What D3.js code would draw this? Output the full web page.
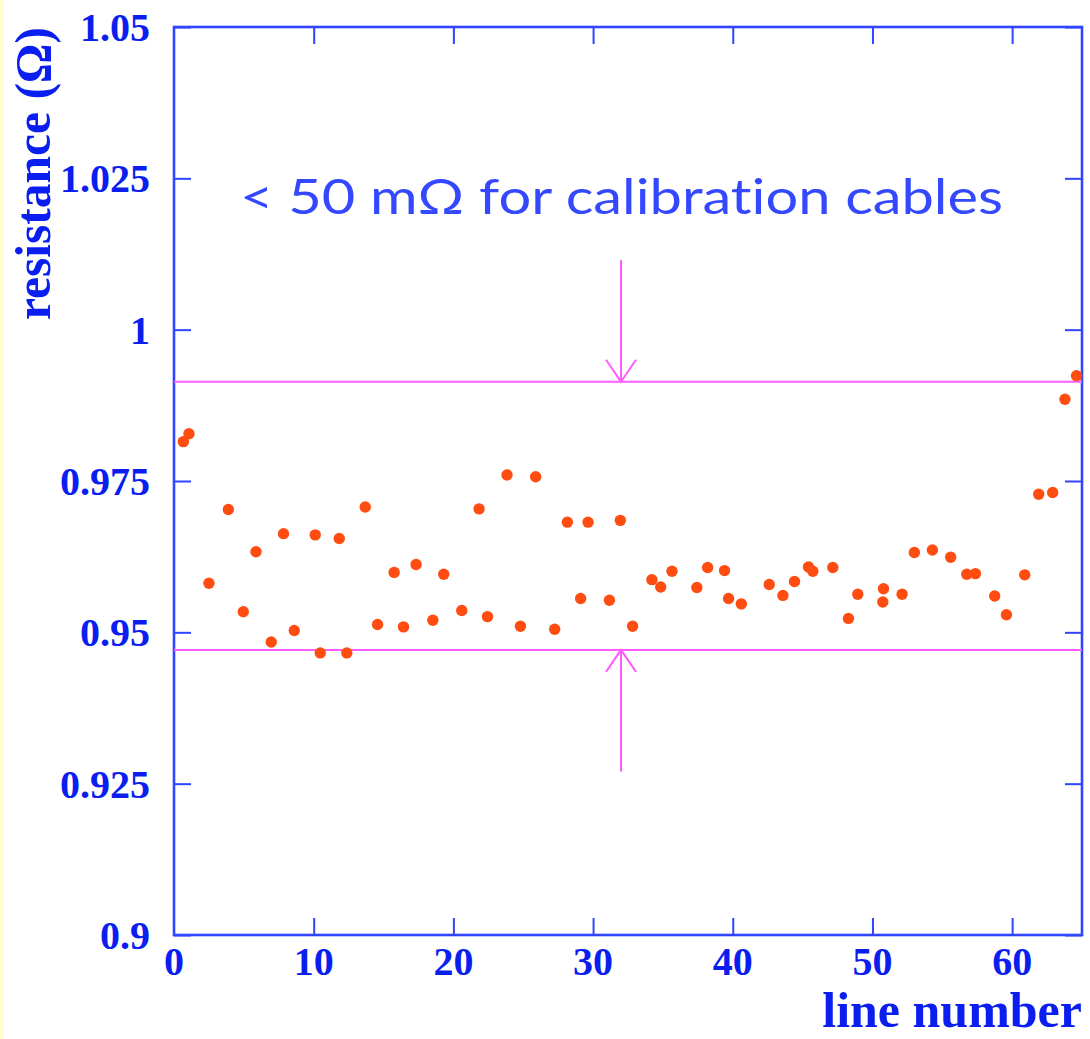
<!DOCTYPE html>
<html>
<head>
<meta charset="utf-8">
<script src="https://cdn.jsdelivr.net/npm/d3@7"></script>
<style>
  html, body { margin: 0; padding: 0; background: #ffffff; }
  svg { display: block; }
  .annot { font-variant-ligatures: none; font-feature-settings: "liga" 0, "clig" 0; }
</style>
</head>
<body>
<svg id="chart" width="1090" height="1039"></svg>
<script>
// ---- data ----
const lineNumbers = [0.67,1.07,2.5,3.89,4.96,5.87,6.96,7.84,8.61,10.11,10.47,11.83,12.37,13.69,14.57,15.76,16.43,17.33,18.53,19.31,20.6,21.84,22.44,23.84,24.8,25.89,27.25,28.16,29.11,29.64,31.17,31.95,32.83,34.21,34.84,35.65,37.43,38.2,39.41,39.7,40.61,42.61,43.59,44.42,45.42,45.73,47.16,48.28,48.95,50.74,50.79,52.12,53.0,54.29,55.6,56.75,57.37,58.75,59.59,60.9,61.9,62.9,63.78,64.61];
const resistances = [0.9815,0.9828,0.9581,0.9703,0.9534,0.9633,0.9484,0.9663,0.9503,0.9661,0.9466,0.9655,0.9466,0.9707,0.9513,0.9599,0.9509,0.9612,0.9520,0.9596,0.9536,0.9704,0.9526,0.9760,0.9510,0.9757,0.9505,0.9682,0.9556,0.9682,0.9553,0.9685,0.9510,0.9587,0.9575,0.9601,0.9574,0.9607,0.9602,0.9556,0.9547,0.9579,0.9561,0.9584,0.9608,0.9601,0.9607,0.9523,0.9563,0.9550,0.9572,0.9563,0.9632,0.9636,0.9624,0.9596,0.9597,0.9560,0.9529,0.9595,0.9728,0.9731,0.9885,0.9924];
const xTicks = [0,10,20,30,40,50,60];
const yTicks = [0.9,0.925,0.95,0.975,1,1.025,1.05];
const yTickLabels = ["0.9","0.925","0.95","0.975","1","1.025","1.05"];
const limitLines = [0.9914, 0.9471];
const arrowX = 32;
const arrowEnds = [1.0115, 0.927];
const annotation = "< 50 m\u03A9 for calibration cables";
const xTitle = "line number";
const yTitle = "resistance (\u03A9)";

// ---- layout ----
const L = 174, R = 1082, T = 27, B = 935;
const svg = d3.select("#chart");
const x = d3.scaleLinear().domain([0, 65]).range([L, R]);
const y = d3.scaleLinear().domain([0.9, 1.05]).range([B, T]);

const axisColor = "#2f45ff";
const labelColor = "#0a1ef0";

// yellow strip at left
svg.append("rect").attr("x",0).attr("y",0).attr("width",4).attr("height",1039).attr("fill","#ffffcc");

// axes via d3 (inward ticks, no labels; labels drawn separately)
function styleAxis(g) {
  g.selectAll(".domain").remove();
  g.selectAll(".tick line").attr("stroke", axisColor).attr("stroke-width", 2);
  g.selectAll(".tick text").remove();
}
const tk = 17;
svg.append("g").attr("transform",`translate(0,${B})`)
  .call(d3.axisBottom(x).tickValues(xTicks.filter(d=>d>0)).tickSizeInner(-tk).tickSizeOuter(0)).call(styleAxis);
svg.append("g").attr("transform",`translate(0,${T})`)
  .call(d3.axisTop(x).tickValues(xTicks.filter(d=>d>0)).tickSizeInner(-tk).tickSizeOuter(0)).call(styleAxis);
svg.append("g").attr("transform",`translate(${L},0)`)
  .call(d3.axisLeft(y).tickValues(yTicks).tickSizeInner(-tk).tickSizeOuter(0)).call(styleAxis);
svg.append("g").attr("transform",`translate(${R},0)`)
  .call(d3.axisRight(y).tickValues(yTicks).tickSizeInner(-tk).tickSizeOuter(0)).call(styleAxis);

// frame
svg.append("rect").attr("x",L).attr("y",T).attr("width",R-L).attr("height",B-T)
  .attr("fill","none").attr("stroke",axisColor).attr("stroke-width",2.6);

// tick labels
const tickFont = "'Liberation Serif','Times New Roman',serif";
svg.append("g").selectAll("text").data(xTicks).join("text")
  .attr("x", d => x(d)).attr("y", B + 40)
  .attr("text-anchor","middle")
  .attr("font-family", tickFont).attr("font-weight","bold").attr("font-size",40)
  .attr("fill", labelColor).text(d => d);
svg.append("g").selectAll("text").data(yTicks).join("text")
  .attr("x", 150).attr("y", d => y(d) + 14)
  .attr("text-anchor","end")
  .attr("font-family", tickFont).attr("font-weight","bold").attr("font-size",40)
  .attr("fill", labelColor).text((d,i) => yTickLabels[i]);

// titles
svg.append("text").attr("x", R).attr("y", 1027).attr("text-anchor","end")
  .attr("font-family", tickFont).attr("font-weight","bold").attr("font-size",50)
  .attr("fill", labelColor).text(xTitle);
svg.append("text").attr("transform","translate(50,27) rotate(-90)").attr("text-anchor","end")
  .attr("font-family", tickFont).attr("font-weight","bold").attr("font-size",50)
  .attr("textLength", 293).attr("lengthAdjust","spacingAndGlyphs")
  .attr("fill", labelColor).text(yTitle);

// limit lines
const mag = "#ff5cff";
svg.append("g").selectAll("line").data(limitLines).join("line")
  .attr("x1", L).attr("x2", R).attr("y1", d => y(d)).attr("y2", d => y(d))
  .attr("stroke", mag).attr("stroke-width", 2);

// arrows
const ag = svg.append("g").attr("stroke", mag).attr("stroke-width", 2).attr("fill","none");
limitLines.forEach((lim, i) => {
  const ax = x(arrowX), y0 = y(arrowEnds[i]), y1 = y(lim);
  const dir = y1 > y0 ? -1 : 1; // head points toward the limit line
  ag.append("line").attr("x1", ax).attr("x2", ax).attr("y1", y0).attr("y2", y1);
  ag.append("polyline").attr("points", `${ax-15},${y1+dir*22} ${ax},${y1} ${ax+15},${y1+dir*22}`);
});

// annotation
svg.append("text").attr("class","annot").attr("x", 240).attr("y", 214)
  .attr("font-family","'Lato','Open Sans','DejaVu Sans',sans-serif").attr("font-weight",400).attr("font-size",48)
  .attr("textLength", 763).attr("lengthAdjust","spacingAndGlyphs")
  .attr("fill", "#3448ff").text(annotation);

// points
svg.append("g").selectAll("circle").data(lineNumbers).join("circle")
  .attr("cx", d => x(d)).attr("cy", (d,i) => y(resistances[i])).attr("r", 5.7)
  .attr("fill", "#ff4d12");
</script>
</body>
</html>
